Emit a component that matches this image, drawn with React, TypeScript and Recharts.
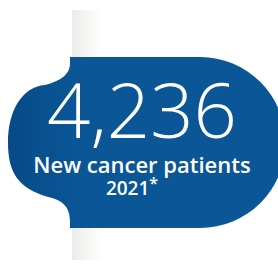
import { BarChart, Bar, XAxis, YAxis } from "recharts";

const categories = ["New cancer patients"];
const patients = [4236];
const years = ["2021*"];

const data = categories.map((label, i) => ({
  label,
  value: patients[i],
  year: years[i],
}));

const BLUE = "#0a5697";

// the bar's rect is used as the frame of the badge: the grey strip fills it,
// the blue blob sits inside it
const BlobShape = (props: any) => {
  const { x, y, height, payload } = props;
  const top = y + 47;
  const bottom = y + height - 32;
  const mid = (top + bottom) / 2;
  const r = (bottom - top) / 2;
  const cx = x + 130;
  const lx = x - 62; // leftmost point of the bulge

  const d = [
    `M ${x},${top}`,
    `L ${cx},${top}`,
    `A ${r} ${r} 0 0 1 ${cx},${bottom}`,
    `L ${x},${bottom}`,
    `L ${x},${bottom - 6}`,
    `C ${x},${bottom - 22} ${x - 8},${bottom - 28} ${x - 22},${bottom - 31}`,
    `C ${lx + 10},${bottom - 40} ${lx},${mid + 30} ${lx},${mid}`,
    `C ${lx},${mid - 32} ${lx + 14},${top + 30} ${x - 25},${top + 28}`,
    `C ${x - 10},${top + 24} ${x},${top + 18} ${x},${top + 6}`,
    "Z",
  ].join(" ");

  const tx = x + 72;
  const value = payload.value.toLocaleString("en-US");
  const year = String(payload.year).replace("*", "");

  return (
    <g>
      <rect x={x + 2} y={y} width={30} height={height} fill="url(#strip)" />
      <path d={d} fill="url(#blob)" />
      <text
        x={tx}
        y={top + 81}
        textAnchor="middle"
        fill="#fff"
        fontFamily="'Open Sans', sans-serif"
        fontWeight={300}
        fontSize={76}
      >
        {value}
      </text>
      <text
        x={tx}
        y={top + 116}
        textAnchor="middle"
        fill="#fff"
        fontFamily="'Open Sans', sans-serif"
        fontWeight={600}
        fontSize={22}
      >
        {payload.label}
      </text>
      <text
        x={tx - 10}
        y={top + 138}
        textAnchor="middle"
        fill="#fff"
        fontFamily="'Open Sans', sans-serif"
        fontWeight={600}
        fontSize={19}
      >
        {year}
        <tspan dy={-6} fontSize={16}>*</tspan>
      </text>
    </g>
  );
};

export default function App() {
  return (
    <div style={{ position: "absolute", left: 0, top: 0, width: 278, height: 269, background: "#fff" }}>
      <BarChart
        width={278}
        height={269}
        data={data}
        margin={{ top: 10, right: 0, bottom: 9, left: 70 }}
        barCategoryGap={0}
      >
        <defs>
          <linearGradient id="strip" x1="0" y1="0" x2="1" y2="0">
            <stop offset="0%" stopColor="#ebebe8" />
            <stop offset="100%" stopColor="#ffffff" />
          </linearGradient>
          <linearGradient id="blob" x1="0" y1="0" x2="1" y2="0">
            <stop offset="0%" stopColor="#064a86" />
            <stop offset="25%" stopColor={BLUE} />
            <stop offset="100%" stopColor={BLUE} />
          </linearGradient>
        </defs>
        <XAxis dataKey="label" hide />
        <YAxis hide type="number" domain={[0, "dataMax"]} allowDataOverflow />
        <Bar dataKey="value" shape={BlobShape} isAnimationActive={false} />
      </BarChart>
    </div>
  );
}
